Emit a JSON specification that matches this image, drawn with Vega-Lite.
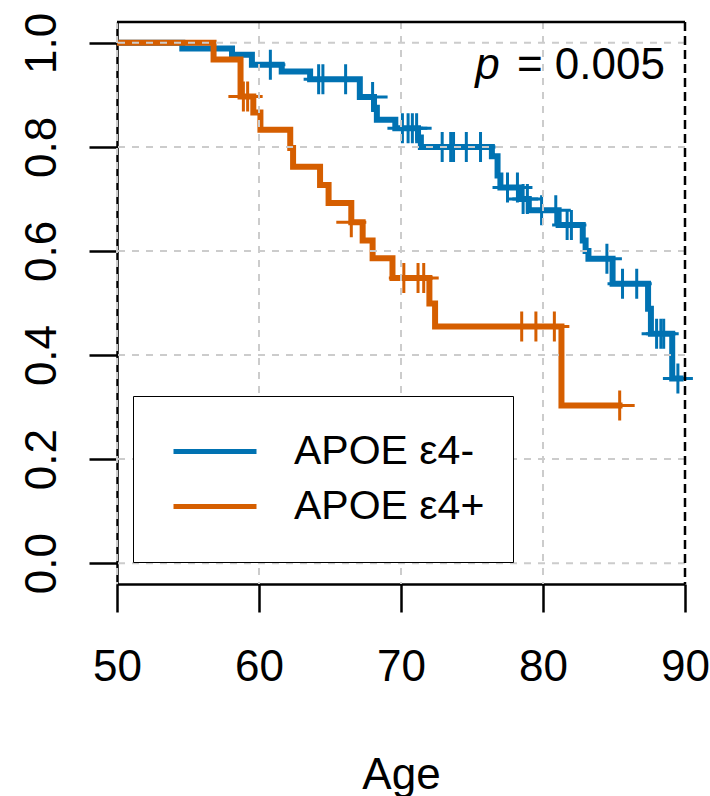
{
  "$schema": "https://vega.github.io/schema/vega-lite/v6.json",
  "width": 568,
  "height": 562,
  "autosize": {"type": "none"},
  "padding": {"left": 117, "top": 22, "right": 25, "bottom": 212},
  "background": "white",
  "config": {
    "view": {"stroke": null},
    "font": "Liberation Sans"
  },
  "datasets": {
    "km": [
      {"group": "APOE ε4-", "age": 50, "surv": 1.0},
      {"group": "APOE ε4-", "age": 54.6, "surv": 0.989},
      {"group": "APOE ε4-", "age": 58.1, "surv": 0.977},
      {"group": "APOE ε4-", "age": 59.5, "surv": 0.958},
      {"group": "APOE ε4-", "age": 61.6, "surv": 0.945},
      {"group": "APOE ε4-", "age": 63.6, "surv": 0.93},
      {"group": "APOE ε4-", "age": 67.1, "surv": 0.896},
      {"group": "APOE ε4-", "age": 68.1, "surv": 0.875},
      {"group": "APOE ε4-", "age": 68.3, "surv": 0.852},
      {"group": "APOE ε4-", "age": 69.6, "surv": 0.836},
      {"group": "APOE ε4-", "age": 71.2, "surv": 0.818},
      {"group": "APOE ε4-", "age": 71.4, "surv": 0.8},
      {"group": "APOE ε4-", "age": 76.4, "surv": 0.782},
      {"group": "APOE ε4-", "age": 76.8, "surv": 0.745},
      {"group": "APOE ε4-", "age": 77.0, "surv": 0.722},
      {"group": "APOE ε4-", "age": 78.4, "surv": 0.7},
      {"group": "APOE ε4-", "age": 79.0, "surv": 0.678},
      {"group": "APOE ε4-", "age": 81.1, "surv": 0.65},
      {"group": "APOE ε4-", "age": 82.8, "surv": 0.62},
      {"group": "APOE ε4-", "age": 83.0, "surv": 0.6},
      {"group": "APOE ε4-", "age": 83.2, "surv": 0.585},
      {"group": "APOE ε4-", "age": 84.9, "surv": 0.537},
      {"group": "APOE ε4-", "age": 87.4, "surv": 0.489},
      {"group": "APOE ε4-", "age": 87.6, "surv": 0.441},
      {"group": "APOE ε4-", "age": 89.1, "surv": 0.355},
      {"group": "APOE ε4-", "age": 89.9, "surv": 0.355},
      {"group": "APOE ε4+", "age": 50, "surv": 1.0},
      {"group": "APOE ε4+", "age": 56.8, "surv": 0.968},
      {"group": "APOE ε4+", "age": 58.7, "surv": 0.897},
      {"group": "APOE ε4+", "age": 59.6, "surv": 0.866},
      {"group": "APOE ε4+", "age": 60.1, "surv": 0.833},
      {"group": "APOE ε4+", "age": 62.2, "surv": 0.798},
      {"group": "APOE ε4+", "age": 62.4, "surv": 0.762},
      {"group": "APOE ε4+", "age": 64.3, "surv": 0.727},
      {"group": "APOE ε4+", "age": 64.9, "surv": 0.692},
      {"group": "APOE ε4+", "age": 66.5, "surv": 0.655},
      {"group": "APOE ε4+", "age": 67.3, "surv": 0.62},
      {"group": "APOE ε4+", "age": 68.0, "surv": 0.586},
      {"group": "APOE ε4+", "age": 69.4, "surv": 0.548},
      {"group": "APOE ε4+", "age": 72.0, "surv": 0.499},
      {"group": "APOE ε4+", "age": 72.4, "surv": 0.455},
      {"group": "APOE ε4+", "age": 81.3, "surv": 0.303},
      {"group": "APOE ε4+", "age": 85.6, "surv": 0.303}
    ],
    "cens": [
      {"group": "APOE ε4-", "age": 60.8, "surv": 0.958},
      {"group": "APOE ε4-", "age": 64.2, "surv": 0.93},
      {"group": "APOE ε4-", "age": 64.5, "surv": 0.93},
      {"group": "APOE ε4-", "age": 66.1, "surv": 0.93},
      {"group": "APOE ε4-", "age": 68.0, "surv": 0.896},
      {"group": "APOE ε4-", "age": 70.1, "surv": 0.836},
      {"group": "APOE ε4-", "age": 70.5, "surv": 0.836},
      {"group": "APOE ε4-", "age": 70.8, "surv": 0.836},
      {"group": "APOE ε4-", "age": 71.1, "surv": 0.836},
      {"group": "APOE ε4-", "age": 72.9, "surv": 0.8},
      {"group": "APOE ε4-", "age": 73.5, "surv": 0.8},
      {"group": "APOE ε4-", "age": 73.7, "surv": 0.8},
      {"group": "APOE ε4-", "age": 74.6, "surv": 0.8},
      {"group": "APOE ε4-", "age": 75.6, "surv": 0.8},
      {"group": "APOE ε4-", "age": 77.5, "surv": 0.722},
      {"group": "APOE ε4-", "age": 78.2, "surv": 0.722},
      {"group": "APOE ε4-", "age": 78.6, "surv": 0.7},
      {"group": "APOE ε4-", "age": 78.9, "surv": 0.7},
      {"group": "APOE ε4-", "age": 79.9, "surv": 0.678},
      {"group": "APOE ε4-", "age": 80.9, "surv": 0.678},
      {"group": "APOE ε4-", "age": 81.7, "surv": 0.65},
      {"group": "APOE ε4-", "age": 82.0, "surv": 0.65},
      {"group": "APOE ε4-", "age": 84.5, "surv": 0.585},
      {"group": "APOE ε4-", "age": 85.6, "surv": 0.537},
      {"group": "APOE ε4-", "age": 86.6, "surv": 0.537},
      {"group": "APOE ε4-", "age": 88.0, "surv": 0.441},
      {"group": "APOE ε4-", "age": 88.3, "surv": 0.441},
      {"group": "APOE ε4-", "age": 88.5, "surv": 0.441},
      {"group": "APOE ε4-", "age": 89.5, "surv": 0.355},
      {"group": "APOE ε4+", "age": 58.9, "surv": 0.897},
      {"group": "APOE ε4+", "age": 59.2, "surv": 0.897},
      {"group": "APOE ε4+", "age": 66.5, "surv": 0.655},
      {"group": "APOE ε4+", "age": 70.2, "surv": 0.548},
      {"group": "APOE ε4+", "age": 71.2, "surv": 0.548},
      {"group": "APOE ε4+", "age": 71.6, "surv": 0.548},
      {"group": "APOE ε4+", "age": 78.5, "surv": 0.455},
      {"group": "APOE ε4+", "age": 79.5, "surv": 0.455},
      {"group": "APOE ε4+", "age": 80.8, "surv": 0.455},
      {"group": "APOE ε4+", "age": 85.4, "surv": 0.303}
    ],
    "xgrid": [{"age": 50}, {"age": 60}, {"age": 70}, {"age": 80}, {"age": 90}],
    "ygrid": [{"surv": 0}, {"surv": 0.2}, {"surv": 0.4}, {"surv": 0.6}, {"surv": 0.8}, {"surv": 1.0}]
  },
  "layer": [
    {
      "data": {"name": "km"},
      "mark": {"type": "line", "interpolate": "step-after", "strokeWidth": 6},
      "encoding": {
        "x": {
          "field": "age", "type": "quantitative",
          "scale": {"domain": [50, 90], "nice": false, "zero": false},
          "axis": {
            "values": [50, 60, 70, 80, 90], "labelFlush": false,
            "tickSize": 28, "tickWidth": 2.5, "tickColor": "black",
            "domainColor": "black", "domainWidth": 2.5,
            "labelFontSize": 44, "labelColor": "black", "labelPadding": 33,
            "labelFont": "Liberation Sans",
            "title": "Age", "titleFontSize": 44, "titleFontWeight": "normal",
            "titleColor": "black", "titleFont": "Liberation Sans", "titlePadding": 64,
            "grid": false
          }
        },
        "y": {
          "field": "surv", "type": "quantitative",
          "scale": {"domain": [-0.04, 1.04], "nice": false, "zero": false},
          "axis": {
            "values": [0, 0.2, 0.4, 0.6, 0.8, 1.0], "format": ".1f", "labelFlush": false,
            "tickSize": 28, "tickWidth": 2.5, "tickColor": "black",
            "domainColor": "black", "domainWidth": 2.5,
            "labelFontSize": 44, "labelColor": "black", "labelPadding": 34,
            "labelFont": "Liberation Sans",
            "labelAngle": -90, "labelAlign": "center", "labelBaseline": "alphabetic",
            "title": null,
            "grid": false
          }
        },
        "color": {
          "field": "group", "type": "nominal",
          "scale": {"domain": ["APOE ε4-", "APOE ε4+"], "range": ["#0072B2", "#D55E00"]},
          "legend": {
            "orient": "none", "legendX": 16, "legendY": 374,
            "title": null,
            "symbolType": "stroke", "symbolSize": 6889, "symbolStrokeWidth": 5,
            "labelFontSize": 41, "labelColor": "black", "labelFont": "Liberation Sans",
            "labelLimit": 0,
            "labelOffset": 35, "symbolOffset": 10,
            "strokeColor": "black", "fillColor": "white",
            "padding": 28, "clipHeight": 55, "rowPadding": 0,
            "zindex": 2
          }
        }
      }
    },
    {
      "data": {"name": "cens"},
      "mark": {"type": "point", "shape": "M-1,0H1M0,-1V1", "filled": false, "size": 900, "strokeWidth": 3, "opacity": 1},
      "encoding": {
        "x": {"field": "age", "type": "quantitative"},
        "y": {"field": "surv", "type": "quantitative"},
        "color": {"field": "group", "type": "nominal", "legend": null}
      }
    },
    {
      "data": {"name": "xgrid"},
      "mark": {"type": "rule", "color": "#cccccc", "strokeWidth": 2, "strokeDash": [7, 7]},
      "encoding": {"x": {"field": "age", "type": "quantitative"}}
    },
    {
      "data": {"name": "ygrid"},
      "mark": {"type": "rule", "color": "#cccccc", "strokeWidth": 2, "strokeDash": [7, 7]},
      "encoding": {"y": {"field": "surv", "type": "quantitative"}}
    },
    {
      "data": {"values": [{}]},
      "mark": {"type": "rule", "color": "black", "strokeWidth": 2.5},
      "encoding": {"y": {"datum": 1.04}}
    },
    {
      "data": {"values": [{}]},
      "mark": {"type": "rule", "color": "black", "strokeWidth": 2.5, "strokeDash": [9, 5]},
      "encoding": {"x": {"datum": 90}}
    },
    {
      "data": {"values": [{}]},
      "mark": {"type": "text", "fontSize": 44, "font": "Liberation Sans", "align": "right", "baseline": "middle", "color": "black", "fontStyle": "italic"},
      "encoding": {"x": {"datum": 76.95}, "y": {"datum": 0.956}, "text": {"value": "p"}}
    },
    {
      "data": {"values": [{}]},
      "mark": {"type": "text", "fontSize": 44, "font": "Liberation Sans", "align": "right", "baseline": "middle", "color": "black"},
      "encoding": {"x": {"datum": 88.59}, "y": {"datum": 0.956}, "text": {"value": "= 0.005"}}
    }
  ]
}
